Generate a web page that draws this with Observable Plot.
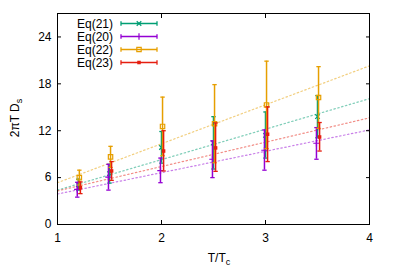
<!DOCTYPE html>
<html><head><meta charset="utf-8">
<script src="https://cdn.jsdelivr.net/npm/d3@7"></script>
<script src="https://cdn.jsdelivr.net/npm/@observablehq/plot@0.6"></script>
<style>body{margin:0;background:#fff} svg{display:block}</style>
</head><body><div id="chart"></div>
<script>
const seriesNames = ["Eq(21)", "Eq(20)", "Eq(22)", "Eq(23)"];
const seriesColors = ["#009e73", "#9400d3", "#e69f00", "#e51e10"];
const seriesSymbols = ["times", "plus", "square2", "square"];
const temps = [1.2, 1.5, 2, 2.5, 3, 3.5];
const xShift = [0, -0.01, 0.01, 0.02];

const eq21 = [5.1, 6.5, 9.85, 10.45, 11.4, 13.8];
const eq21Lo = [4.4, 5.3, 7.85, 7.1, 8.5, 11.1];
const eq21Hi = [5.8, 7.7, 11.9, 13.8, 14.4, 16.5];

const eq20 = [4.5, 6.05, 6.9, 8.35, 9.5, 10.4];
const eq20Lo = [3.5, 4.4, 5.35, 6.0, 6.95, 8.35];
const eq20Hi = [5.4, 7.7, 8.5, 10.7, 12.1, 12.4];

const eq22 = [6.0, 8.65, 12.55, 12.9, 15.3, 16.25];
const eq22Lo = [5.05, 7.3, 8.8, 7.9, 9.7, 12.3];
const eq22Hi = [6.95, 10.0, 16.3, 17.9, 20.9, 20.2];

const eq23 = [4.7, 6.85, 9.4, 9.8, 11.55, 11.2];
const eq23Lo = [3.95, 5.65, 6.85, 6.8, 8.05, 9.4];
const eq23Hi = [5.45, 8.05, 12.0, 13.0, 15.05, 13.05];

const fitX = [1, 4];
const fit21 = [4.4, 16.1];
const fit20 = [3.9, 12.1];
const fit22 = [5.35, 20.3];
const fit23 = [4.3, 13.65];

const xTicks = [1, 2, 3, 4];
const yTicks = [0, 6, 12, 18, 24];

const centers = [eq21, eq20, eq22, eq23];
const lows = [eq21Lo, eq20Lo, eq22Lo, eq23Lo];
const highs = [eq21Hi, eq20Hi, eq22Hi, eq23Hi];
const fits = [fit21, fit20, fit22, fit23];

const points = [];
seriesNames.forEach((s, i) => temps.forEach((t, j) => points.push({
  series: s, idx: i, x: t + xShift[i], y: centers[i][j], lo: lows[i][j], hi: highs[i][j]
})));
const fitRows = [];
seriesNames.forEach((s, i) => fitX.forEach((x, j) => fitRows.push({series: s, idx: i, x, y: fits[i][j]})));

const capSymbol = {draw(ctx) { ctx.moveTo(-2.2, 0); ctx.lineTo(2.2, 0); }};
const symbolR = {times: 2.2, plus: 2.2, square2: 2.8, square: 2};

const marks = [];
seriesNames.forEach((s, i) => {
  marks.push(Plot.line(fitRows.filter(d => d.idx === i), {x: "x", y: "y", stroke: seriesColors[i], strokeOpacity: 0.5, strokeWidth: 1.2, strokeDasharray: "1.5,2.5"}));
});
seriesNames.forEach((s, i) => {
  const data = points.filter(d => d.idx === i);
  const c = seriesColors[i];
  marks.push(Plot.ruleX(data, {x: "x", y1: "lo", y2: "hi", stroke: c, strokeWidth: 1.5}));
  marks.push(Plot.dot(data, {x: "x", y: "lo", symbol: capSymbol, stroke: c, fill: "none", strokeWidth: 1.3}));
  marks.push(Plot.dot(data, {x: "x", y: "hi", symbol: capSymbol, stroke: c, fill: "none", strokeWidth: 1.3}));
  const filled = seriesSymbols[i] === "square";
  marks.push(Plot.dot(data, {x: "x", y: "y", symbol: seriesSymbols[i], r: symbolR[seriesSymbols[i]],
    stroke: filled ? "none" : c, fill: filled ? c : "none", strokeWidth: 1.2}));
});

const plot = Plot.plot({
  width: 400, height: 280,
  marginLeft: 57, marginRight: 31, marginTop: 13, marginBottom: 56,
  style: {fontFamily: "Liberation Sans, Arial, sans-serif", fontSize: "12px", color: "#000", background: "#fff"},
  x: {domain: [1, 4]},
  y: {domain: [0, 27]},
  marks: [
    ...marks,
    Plot.frame({stroke: "#000", strokeWidth: 1}),
    Plot.axisX(xTicks, {anchor: "bottom", tickSize: 0, tickPadding: 9, label: null, fontSize: 12}),
    Plot.axisY(yTicks, {anchor: "left", tickSize: 0, tickPadding: 6, label: null, fontSize: 12}),
    Plot.axisX(xTicks, {anchor: "bottom", tickSize: -4, tickFormat: () => "", label: null}),
    Plot.axisX(xTicks, {anchor: "top", tickSize: -4, tickFormat: () => "", label: null}),
    Plot.axisY(yTicks, {anchor: "left", tickSize: -4, tickFormat: () => "", label: null}),
    Plot.axisY(yTicks, {anchor: "right", tickSize: -4, tickFormat: () => "", label: null})
  ]
});
document.getElementById("chart").appendChild(plot);

const svg = d3.select(plot);
const font = "Liberation Sans, Arial, sans-serif";
const xl = svg.append("text").attr("x", 219).attr("y", 262).attr("text-anchor", "middle")
  .attr("font-family", font).attr("font-size", 12).attr("fill", "#000");
xl.append("tspan").text("T/T");
xl.append("tspan").attr("font-size", 9).attr("dy", 3).text("c");
const yl = svg.append("text").attr("transform", "translate(19,118) rotate(-90)").attr("text-anchor", "middle")
  .attr("font-family", font).attr("font-size", 12).attr("fill", "#000");
yl.append("tspan").text("2\u03c0T D");
yl.append("tspan").attr("font-size", 9).attr("dy", 3).text("s");

const leg = svg.append("g");
seriesNames.forEach((s, i) => {
  const y = 23.5 + i * 13;
  const c = seriesColors[i];
  leg.append("text").attr("x", 113).attr("y", y).attr("dy", "0.35em").attr("text-anchor", "end")
    .attr("font-family", font).attr("font-size", 12).attr("fill", "#000").text(s);
  leg.append("line").attr("x1", 121).attr("x2", 157).attr("y1", y).attr("y2", y).attr("stroke", c).attr("stroke-width", 1.5);
  leg.append("line").attr("x1", 121).attr("x2", 121).attr("y1", y - 2.2).attr("y2", y + 2.2).attr("stroke", c).attr("stroke-width", 1.3);
  leg.append("line").attr("x1", 157).attr("x2", 157).attr("y1", y - 2.2).attr("y2", y + 2.2).attr("stroke", c).attr("stroke-width", 1.3);
  const sym = {times: d3.symbolTimes, plus: d3.symbolPlus, square2: d3.symbolSquare2, square: d3.symbolSquare}[seriesSymbols[i]];
  const filled = seriesSymbols[i] === "square";
  const r = symbolR[seriesSymbols[i]];
  leg.append("path").attr("transform", `translate(139,${y})`).attr("d", d3.symbol(sym, Math.PI * r * r)())
    .attr("fill", filled ? c : "none").attr("stroke", filled ? "none" : c).attr("stroke-width", 1.2);
});
</script>
</body></html>
